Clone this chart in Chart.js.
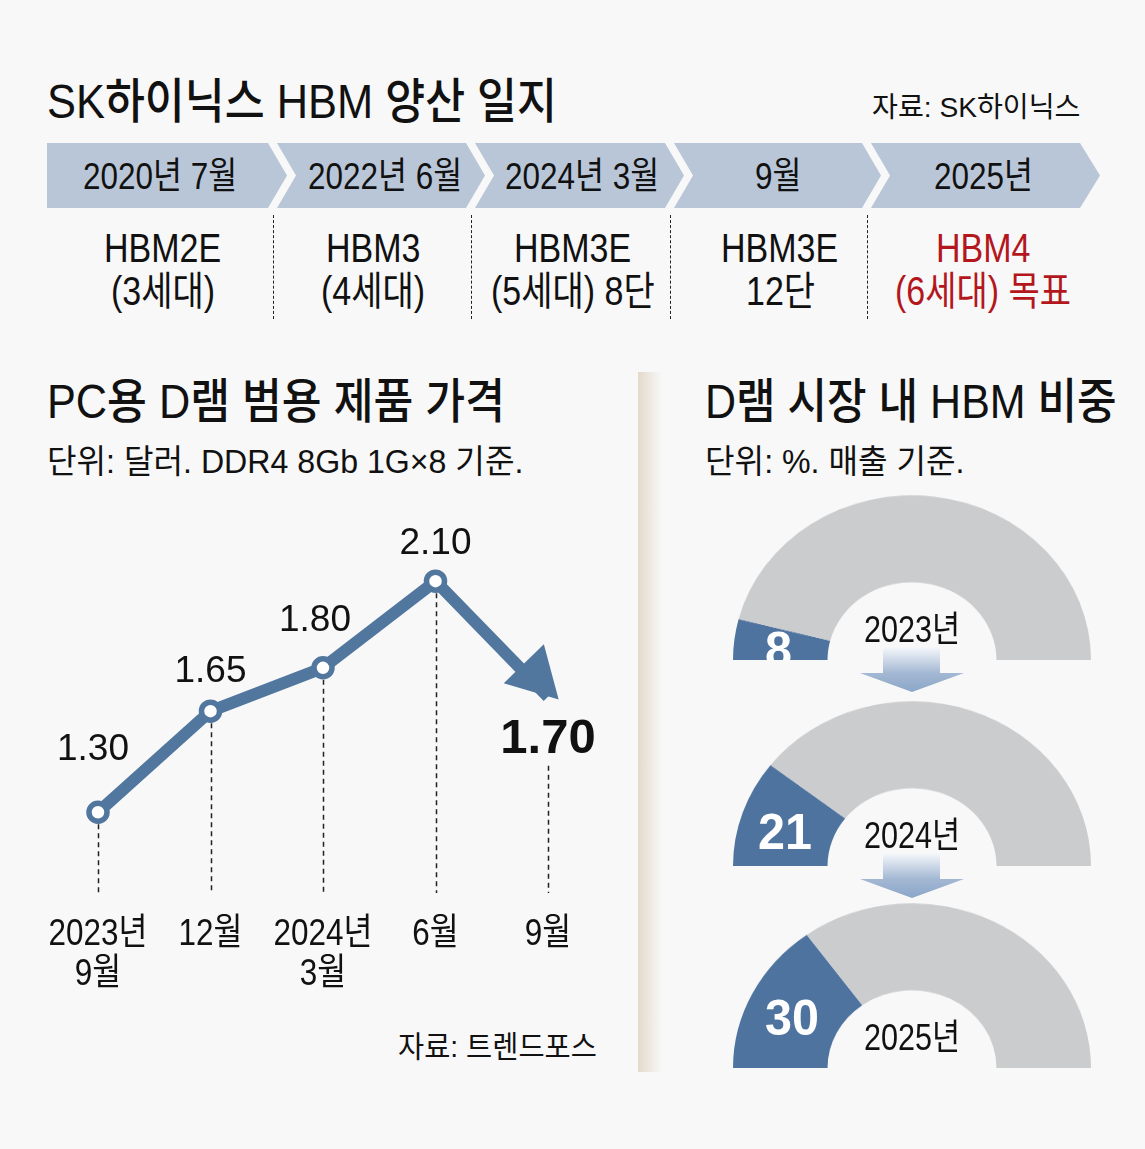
<!DOCTYPE html>
<html><head><meta charset="utf-8">
<script src="https://cdn.jsdelivr.net/npm/chart.js@4.4.1/dist/chart.umd.min.js"></script>
<style>
html,body{margin:0;padding:0;}
body{width:1145px;height:1149px;background:#f8f8f8;position:relative;overflow:hidden;font-family:"Liberation Sans","Noto Sans CJK KR",sans-serif;color:#111;}
.t{position:absolute;white-space:nowrap;line-height:1;}
.seg{position:absolute;top:143px;height:65px;background:#b9c6d7;}
.vdash{position:absolute;top:215px;height:104px;width:0;border-left:1.5px dashed #222;}
#divider{position:absolute;left:638px;top:372px;width:24px;height:700px;background:linear-gradient(to right,#e4d9cc,#f8f8f8);}
canvas{position:absolute;}
.clip{position:absolute;overflow:hidden;}
.arrow{position:absolute;width:104px;height:45px;clip-path:polygon(23px 0,80px 0,80px 26px,104px 26px,52px 45px,0 26px,23px 26px);background:linear-gradient(to bottom,#f6f8fb 0%,#a3b8d3 58%,#8ba6c8 100%);}
</style></head><body>
<div id="divider"></div>
<canvas id="price" width="640" height="520" style="left:0;top:480px;width:640px;height:520px"></canvas>
<script>
// ---------- data ----------
const titleMain = 'SK하이닉스 HBM 양산 일지';
const sourceMain = '자료: SK하이닉스';
const timelineDates = ['2020년 7월', '2022년 6월', '2024년 3월', '9월', '2025년'];
const timelineLine1 = ['HBM2E', 'HBM3', 'HBM3E', 'HBM3E', 'HBM4'];
const timelineLine2 = ['(3세대)', '(4세대)', '(5세대) 8단', '12단', '(6세대) 목표'];
const timelineHighlight = [false, false, false, false, true];

const priceTitle = 'PC용 D램 범용 제품 가격';
const priceUnit = '단위: 달러. DDR4 8Gb 1G×8 기준.';
const priceSource = '자료: 트렌드포스';
const priceLabels = [['2023년', '9월'], ['12월'], ['2024년', '3월'], ['6월'], ['9월']];
const priceValues = [1.30, 1.65, 1.80, 2.10, 1.70];

const shareTitle = 'D램 시장 내 HBM 비중';
const shareUnit = '단위: %. 매출 기준.';
const shareYears = ['2023년', '2024년', '2025년'];
const shareValues = [8, 21, 30];

// ---------- style ----------
const BLUE = '#52779f';
const GAUGE_BLUE = '#4f739f';
const GRAY = '#cbccce';
const RED = '#b3171d';

function T(txt, x, y, size, o = {}) {
  const el = document.createElement('div');
  el.className = 't';
  el.textContent = txt;
  el.style.fontSize = size + 'px';
  el.style.fontWeight = o.bold ? '700' : (o.w || '400');
  el.style.color = o.color || '#111';
  (o.parent || document.body).appendChild(el);
  const nat = el.offsetWidth, h = el.offsetHeight;
  const k = o.fit ? o.fit / nat : (o.k || 0.85);
  const vis = nat * k;
  const a = o.a || 'c';
  const left = a === 'l' ? x : a === 'r' ? x - vis : x - vis / 2;
  el.style.left = left + 'px';
  el.style.top = (y - h / 2) + 'px';
  el.style.transformOrigin = '0 50%';
  el.style.transform = 'scaleX(' + k + ')';
  return el;
}

// ---------- header & timeline ----------
T(titleMain, 47, 102, 48, {a: 'l', fit: 510, w: '500'});
T(sourceMain, 1080, 108, 28, {a: 'r', fit: 208});

const segGeom = [[47, null, 268, 287], [277, 296, 466, 485], [475, 494, 665, 684], [674, 693, 862, 881], [871, 890, 1080, 1100]];
const dateCx = [160, 385, 582, 778, 983];
const prodCx = [163, 373, 573, 780, 983];
segGeom.forEach((g, i) => {
  const [L, N, R, P] = g;
  const d = document.createElement('div');
  d.className = 'seg';
  d.style.left = L + 'px';
  d.style.width = (P - L) + 'px';
  const pts = [[0, 0], [R - L, 0], [P - L, 32.5], [R - L, 65], [0, 65]];
  if (N !== null) pts.push([N - L, 32.5]);
  d.style.clipPath = 'polygon(' + pts.map(p => p[0] + 'px ' + p[1] + 'px').join(',') + ')';
  document.body.appendChild(d);
  if (i > 0) {
    const v = document.createElement('div');
    v.className = 'vdash';
    v.style.left = (L - 4) + 'px';
    document.body.appendChild(v);
  }
});
timelineDates.forEach((s, i) => T(s, dateCx[i], 176, 37));
timelineLine1.forEach((s, i) => T(s, prodCx[i], 248, 40, {color: timelineHighlight[i] ? RED : '#111'}));
timelineLine2.forEach((s, i) => T(s, prodCx[i], 291, 40, {color: timelineHighlight[i] ? RED : '#111'}));

// ---------- section headers ----------
T(priceTitle, 47, 402, 48, {a: 'l', fit: 458, w: '500'});
T(priceUnit, 47, 461, 33, {a: 'l', fit: 476});
T(priceSource, 597, 1047, 30, {a: 'r', fit: 199});
T(shareTitle, 705, 402, 48, {a: 'l', fit: 412, w: '500'});
T(shareUnit, 705, 461, 33, {a: 'l', fit: 260});

// ---------- price line chart ----------
const labelOffsets = [[-5, -65], [0, -42], [-8, -50], [0, -40], [0, 39]];
const FONT = '"Liberation Sans","Noto Sans CJK KR",sans-serif';
const pricePlugin = {
  id: 'priceDecor',
  beforeDatasetsDraw(chart) {
    const ctx = chart.ctx;
    const meta = chart.getDatasetMeta(0);
    const last = meta.data.length - 1;
    const bottom = 413;
    ctx.save();
    ctx.strokeStyle = '#222';
    ctx.lineWidth = 1.5;
    ctx.setLineDash([5, 4]);
    meta.data.forEach((pt, i) => {
      const y0 = i === last ? pt.y + labelOffsets[i][1] + 30 : pt.y + 12;
      ctx.beginPath();
      ctx.moveTo(Math.round(pt.x) + 0.5, y0);
      ctx.lineTo(Math.round(pt.x) + 0.5, bottom);
      ctx.stroke();
    });
    ctx.restore();
  },
  afterDatasetsDraw(chart) {
    const ctx = chart.ctx;
    const meta = chart.getDatasetMeta(0);
    const n = meta.data.length;
    const p4 = meta.data[n - 2], p5 = meta.data[n - 1];
    // arrow head
    let dx = p5.x - p4.x, dy = p5.y - p4.y;
    const len = Math.hypot(dx, dy); dx /= len; dy /= len;
    const tip = [p5.x + dx * 11 + 3, p5.y + dy * 11 - 5];
    const base = [tip[0] - dx * 50, tip[1] - dy * 50];
    const W = 28;
    ctx.save();
    ctx.fillStyle = BLUE;
    ctx.beginPath();
    ctx.moveTo(tip[0], tip[1]);
    ctx.lineTo(base[0] - dy * W, base[1] + dx * W);
    ctx.lineTo(base[0] + dy * W, base[1] - dx * W);
    ctx.closePath();
    ctx.fill();
    // value labels
    ctx.fillStyle = '#111';
    ctx.textAlign = 'center';
    ctx.textBaseline = 'alphabetic';
    meta.data.forEach((pt, i) => {
      const isLast = i === n - 1;
      const size = isLast ? 49 : 37;
      ctx.font = (isLast ? 'bold ' : '') + size + 'px ' + FONT;
      const x = pt.x + labelOffsets[i][0], y = pt.y + labelOffsets[i][1];
      ctx.fillText(priceValues[i].toFixed(2), x, y + 0.358 * size);
    });
    // category labels
    const size = 37;
    ctx.font = size + 'px ' + FONT;
    meta.data.forEach((pt, i) => {
      priceLabels[i].forEach((line, j) => {
        const cy = 452 + j * 40;
        ctx.save();
        ctx.translate(pt.x, cy + 0.36 * size);
        ctx.scale(0.85, 1);
        ctx.fillText(line, 0, 0);
        ctx.restore();
      });
    });
    ctx.restore();
  }
};
new Chart(document.getElementById('price'), {
  type: 'line',
  data: {
    labels: priceLabels.map(l => l.join(' ')),
    datasets: [{
      data: priceValues,
      borderColor: BLUE,
      borderWidth: 12,
      borderJoinStyle: 'round',
      borderCapStyle: 'butt',
      tension: 0,
      clip: false,
      pointRadius: priceValues.map((v, i) => i === priceValues.length - 1 ? 0 : 9),
      pointHoverRadius: priceValues.map((v, i) => i === priceValues.length - 1 ? 0 : 9),
      pointBorderWidth: 5.5,
      pointBackgroundColor: '#fff',
      pointBorderColor: BLUE
    }]
  },
  options: {
    responsive: false,
    animation: false,
    events: [],
    layout: {padding: {left: 98, right: 92, top: 13.7, bottom: 101.1}},
    scales: {
      x: {display: false, offset: false},
      y: {display: false, min: 1.0, max: 2.4}
    },
    plugins: {legend: {display: false}, tooltip: {enabled: false}}
  },
  plugins: [pricePlugin]
});

// ---------- HBM share gauges ----------
const gaugeBase = [660, 866, 1068];
const CX = 912, R = 179, SY = 0.92;
shareValues.forEach((v, i) => {
  const base = gaugeBase[i];
  const c = document.createElement('canvas');
  c.width = 2 * R; c.height = R;
  c.style.left = (CX - R) + 'px';
  c.style.top = (base - R) + 'px';
  c.style.width = 2 * R + 'px';
  c.style.height = R + 'px';
  c.style.transformOrigin = '50% 100%';
  c.style.transform = 'scaleY(' + SY + ')';
  document.body.appendChild(c);
  new Chart(c, {
    type: 'doughnut',
    data: {
      labels: ['HBM', '기타'],
      datasets: [{
        data: [v, 100 - v],
        backgroundColor: [GAUGE_BLUE, GRAY],
        borderWidth: 0, hoverBorderWidth: 0, hoverOffset: 0, offset: 0
      }]
    },
    options: {
      responsive: false, animation: false, events: [],
      rotation: -90, circumference: 180, cutout: '47.2%',
      layout: {padding: 0},
      plugins: {legend: {display: false}, tooltip: {enabled: false}}
    }
  });
  // value label inside blue segment, clipped at baseline
  const clip = document.createElement('div');
  clip.className = 'clip';
  clip.style.left = (CX - R) + 'px';
  clip.style.top = (base - R) + 'px';
  clip.style.width = 2 * R + 'px';
  clip.style.height = R + 'px';
  document.body.appendChild(clip);
  const th = (v / 200) * Math.PI, rm = 132;
  const lx = R - rm * Math.cos(th), ly = R - rm * Math.sin(th) * SY;
  T(String(v), lx - 2, ly + 5, 50, {bold: true, color: '#fff', k: 0.97, parent: clip});
  T(shareYears[i], CX, base - 30, 36);
  if (i < shareValues.length - 1) {
    const a = document.createElement('div');
    a.className = 'arrow';
    a.style.left = (CX - 52) + 'px';
    a.style.top = (base - 13) + 'px';
    document.body.appendChild(a);
  }
});
</script>
</body></html>
